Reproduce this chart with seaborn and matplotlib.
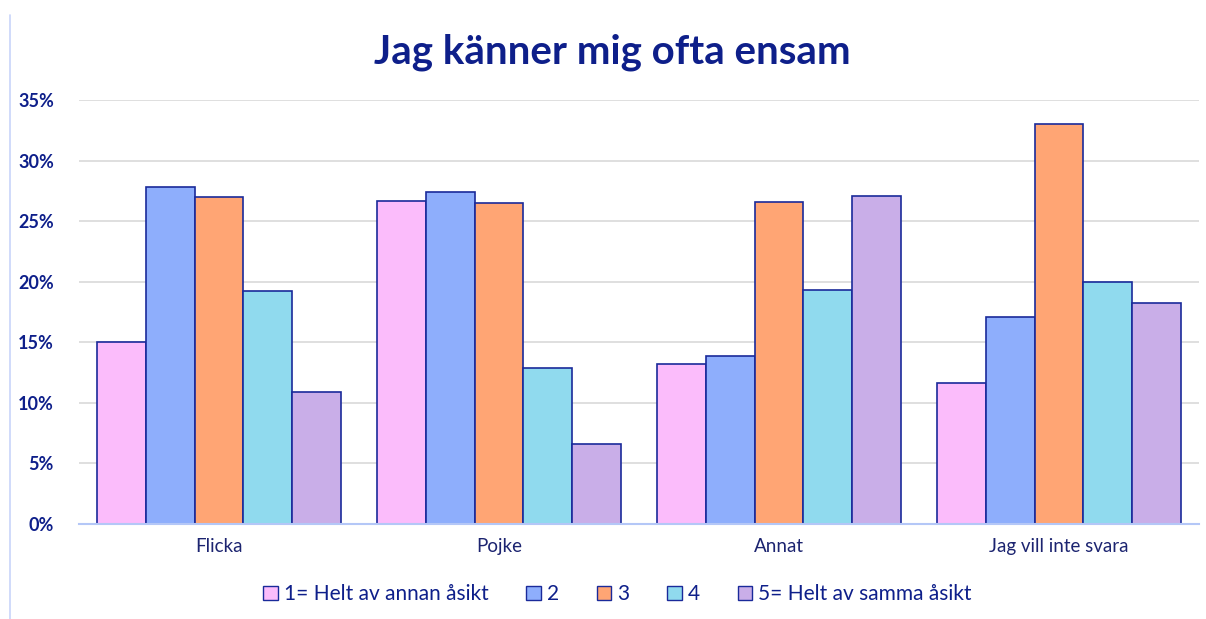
import pandas as pd
import matplotlib.pyplot as plt
import seaborn as sns
from matplotlib.lines import Line2D
from matplotlib.patches import Patch

groups = ['Flicka', 'Pojke', 'Annat', 'Jag vill inte svara']
answers = ['1= Helt av annan åsikt', '2', '3', '4', '5= Helt av samma åsikt']

flicka = [15.0, 27.8, 27.0, 19.2, 10.9]
pojke = [26.7, 27.4, 26.5, 12.9, 6.6]
annat = [13.2, 13.9, 26.6, 19.3, 27.1]
vill_inte = [11.6, 17.1, 33.0, 20.0, 18.2]

colors = ['#FBBCFB', '#8EAEFC', '#FFA574', '#90DAEE', '#C9AEE8']
navy = '#0E1F8A'
edge = '#1A2A9A'

rows = []
for g, vals in zip(groups, [flicka, pojke, annat, vill_inte]):
    for a, v in zip(answers, vals):
        rows.append({'grupp': g, 'svar': a, 'andel': v})
df = pd.DataFrame(rows)

sns.set_style('white')
plt.rcParams['font.family'] = ['Lato', 'DejaVu Sans']

fig = plt.figure(figsize=(12.06, 6.19), dpi=100)
ax = fig.add_axes([0.0655, 0.1535, 0.9287, 0.685])

sns.barplot(data=df, x='grupp', y='andel', hue='svar', order=groups,
            hue_order=answers, palette=colors, saturation=1, width=0.868,
            gap=0, edgecolor=edge, linewidth=1.2, ax=ax, legend=False)

ax.set_ylim(0, 35)
ax.set_xlim(-0.5, 3.5)
ax.set_yticks(range(0, 36, 5))
ax.set_yticklabels([f'{t}%' for t in range(0, 36, 5)], fontsize=13,
                   fontweight='bold', color=navy)
ax.tick_params(axis='y', length=0, pad=18)
ax.tick_params(axis='x', length=0, pad=10, labelsize=13.5, labelcolor='#1C2470')
ax.yaxis.grid(True, color='#D9D9D9', linewidth=1.2)
ax.set_axisbelow(True)
for s in ['top', 'right', 'left']:
    ax.spines[s].set_visible(False)
ax.spines['bottom'].set_color('#B4C7F7')
ax.spines['bottom'].set_linewidth(1.5)
ax.set_xlabel('')
ax.set_ylabel('')

fig.text(0.508, 0.915, 'Jag känner mig ofta ensam', ha='center', va='center',
         fontsize=29, fontweight='bold', color=navy)

handles = [Patch(facecolor=c, edgecolor=edge, linewidth=1) for c in colors]
fig.legend(handles, answers, loc='center', bbox_to_anchor=(0.512, 0.04),
           ncol=5, frameon=False, fontsize=15, labelcolor=navy,
           handlelength=0.7, handleheight=0.7, handletextpad=0.3,
           columnspacing=1.8)

fig.add_artist(Line2D([0.0085, 0.0085], [0.0, 0.975], color='#C8D4FA',
                      linewidth=1.2, transform=fig.transFigure))

fig.savefig('out.png', dpi=100)
